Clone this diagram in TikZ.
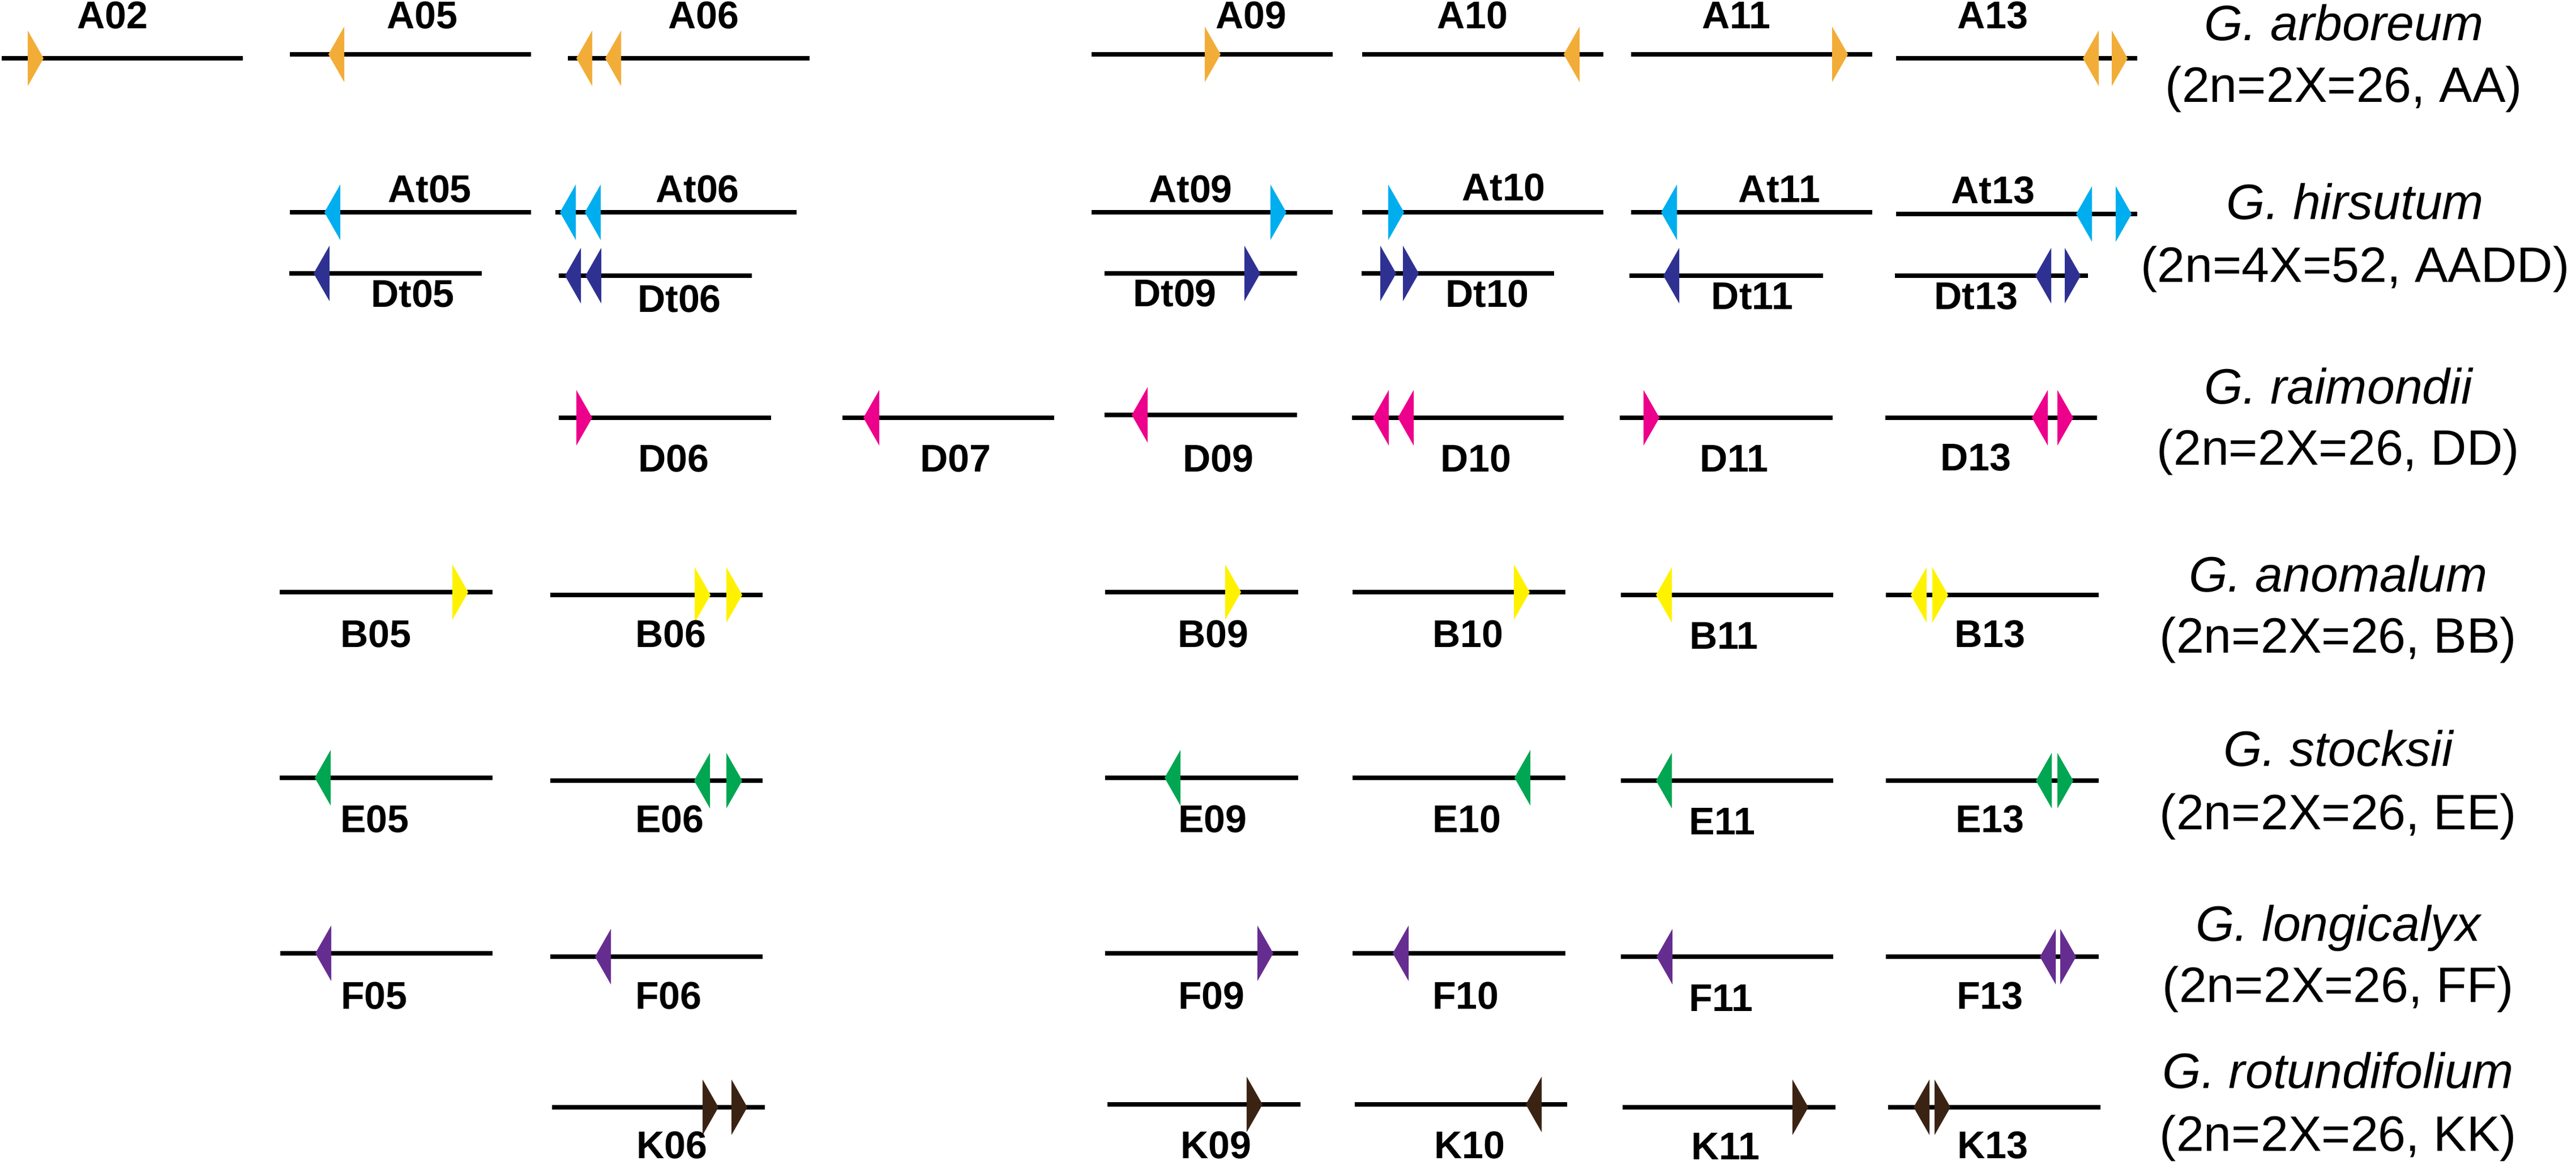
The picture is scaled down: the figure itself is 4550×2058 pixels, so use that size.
\documentclass[tikz,border=0pt]{standalone}
\usepackage{fontspec}
\setmainfont{Liberation Sans}
\usetikzlibrary{positioning,calc}
\definecolor{geneA}{HTML}{F2AD38}
\definecolor{geneAt}{HTML}{00AEEF}
\definecolor{geneDt}{HTML}{2E3192}
\definecolor{geneD}{HTML}{EC008C}
\definecolor{geneB}{HTML}{FFF200}
\definecolor{geneE}{HTML}{00A651}
\definecolor{geneF}{HTML}{662D91}
\definecolor{geneK}{HTML}{3B2314}

\begin{document}
\begin{tikzpicture}[
  x=0.01cm, y=-0.01cm,
  chrom/.style={line width=0.08cm},
  chrlab/.style={anchor=base, inner sep=0pt, font=\fontsize{19.4}{23}\selectfont\bfseries},
  species/.style={anchor=base, inner sep=0pt, font=\fontsize{25}{30}\selectfont\itshape},
  ploidy/.style={anchor=base, inner sep=0pt, font=\fontsize{25}{30}\selectfont},
  fwd/.pic={\fill (0,-49) -- (28,0) -- (0,49) -- cycle;},
  rev/.pic={\fill (0,-49) -- (-28,0) -- (0,49) -- cycle;},
  ]
  \useasboundingbox [fill=white] (0,0) rectangle (4550,2058);

  \draw [chrom] (3,103) -- (429,103);
  \pic [geneA] at (49,103) {fwd};
  \node [chrlab] (A02) at (199,51) {A02};
  \draw [chrom] (512,96) -- (938,96);
  \pic [geneA] at (608,96) {rev};
  \node [chrlab] (A05) at (746,51) {A05};
  \draw [chrom] (1003,103) -- (1430,103);
  \pic [geneA] at (1046,103) {rev};
  \pic [geneA] at (1097,103) {rev};
  \node [chrlab] (A06) at (1243,51) {A06};
  \draw [chrom] (1928,96) -- (2354,96);
  \pic [geneA] at (2128,96) {fwd};
  \node [chrlab] (A09) at (2210,51) {A09};
  \draw [chrom] (2406,96) -- (2832,96);
  \pic [geneA] at (2790,96) {rev};
  \node [chrlab] (A10) at (2601,51) {A10};
  \draw [chrom] (2881,96) -- (3307,96);
  \pic [geneA] at (3236,96) {fwd};
  \node [chrlab] (A11) at (3067,51) {A11};
  \draw [chrom] (3349,103) -- (3775,103);
  \pic [geneA] at (3707,103) {rev};
  \pic [geneA] at (3730,103) {fwd};
  \node [chrlab] (A13) at (3520,51) {A13};

  \draw [chrom] (512,375) -- (938,375);
  \pic [geneAt] at (601,375) {rev};
  \node [chrlab] (At05) at (759,358) {At05};
  \draw [chrom] (981,375) -- (1407,375);
  \pic [geneAt] at (1017,375) {rev};
  \pic [geneAt] at (1061,375) {rev};
  \node [chrlab] (At06) at (1232,358) {At06};
  \draw [chrom] (1928,375) -- (2354,375);
  \pic [geneAt] at (2244,375) {fwd};
  \node [chrlab] (At09) at (2103,358) {At09};
  \draw [chrom] (2406,375) -- (2832,375);
  \pic [geneAt] at (2452,375) {fwd};
  \node [chrlab] (At10) at (2656,355) {At10};
  \draw [chrom] (2881,375) -- (3307,375);
  \pic [geneAt] at (2962,375) {rev};
  \node [chrlab] (At11) at (3143,358) {At11};
  \draw [chrom] (3349,378) -- (3775,378);
  \pic [geneAt] at (3695,378) {rev};
  \pic [geneAt] at (3737,378) {fwd};
  \node [chrlab] (At13) at (3520,360) {At13};

  \draw [chrom] (511,483) -- (851,483);
  \pic [geneDt] at (582,483) {rev};
  \node [chrlab] (Dt05) at (729,543) {Dt05};
  \draw [chrom] (987,487) -- (1328,487);
  \pic [geneDt] at (1026,487) {rev};
  \pic [geneDt] at (1062,487) {rev};
  \node [chrlab] (Dt06) at (1200,551) {Dt06};
  \draw [chrom] (1951,483) -- (2291,483);
  \pic [geneDt] at (2198,483) {fwd};
  \node [chrlab] (Dt09) at (2075,542) {Dt09};
  \draw [chrom] (2405,483) -- (2745,483);
  \pic [geneDt] at (2438,483) {fwd};
  \pic [geneDt] at (2478,483) {fwd};
  \node [chrlab] (Dt10) at (2627,543) {Dt10};
  \draw [chrom] (2878,487) -- (3220,487);
  \pic [geneDt] at (2966,487) {rev};
  \node [chrlab] (Dt11) at (3095,547) {Dt11};
  \draw [chrom] (3347,487) -- (3688,487);
  \pic [geneDt] at (3623,487) {rev};
  \pic [geneDt] at (3647,487) {fwd};
  \node [chrlab] (Dt13) at (3490,547) {Dt13};

  \draw [chrom] (987,738) -- (1362,738);
  \pic [geneD] at (1018,738) {fwd};
  \node [chrlab] (D06) at (1190,833) {D06};
  \draw [chrom] (1488,738) -- (1862,738);
  \pic [geneD] at (1553,738) {rev};
  \node [chrlab] (D07) at (1688,833) {D07};
  \draw [chrom] (1951,733) -- (2291,733);
  \pic [geneD] at (2027,733) {rev};
  \node [chrlab] (D09) at (2152,833) {D09};
  \draw [chrom] (2388,738) -- (2762,738);
  \pic [geneD] at (2453,738) {rev};
  \pic [geneD] at (2497,738) {rev};
  \node [chrlab] (D10) at (2607,833) {D10};
  \draw [chrom] (2861,738) -- (3237,738);
  \pic [geneD] at (2903,738) {fwd};
  \node [chrlab] (D11) at (3063,833) {D11};
  \draw [chrom] (3330,738) -- (3704,738);
  \pic [geneD] at (3617,738) {rev};
  \pic [geneD] at (3634,738) {fwd};
  \node [chrlab] (D13) at (3490,831) {D13};

  \draw [chrom] (494,1046) -- (870,1046);
  \pic [geneB] at (799,1046) {fwd};
  \node [chrlab] (B05) at (664,1143) {B05};
  \draw [chrom] (972,1051) -- (1347,1051);
  \pic [geneB] at (1227,1051) {fwd};
  \pic [geneB] at (1283,1051) {fwd};
  \node [chrlab] (B06) at (1185,1143) {B06};
  \draw [chrom] (1952,1046) -- (2293,1046);
  \pic [geneB] at (2164,1046) {fwd};
  \node [chrlab] (B09) at (2143,1143) {B09};
  \draw [chrom] (2389,1046) -- (2765,1046);
  \pic [geneB] at (2674,1046) {fwd};
  \node [chrlab] (B10) at (2593,1143) {B10};
  \draw [chrom] (2863,1051) -- (3238,1051);
  \pic [geneB] at (2953,1051) {rev};
  \node [chrlab] (B11) at (3045,1146) {B11};
  \draw [chrom] (3331,1051) -- (3707,1051);
  \pic [geneB] at (3403,1051) {rev};
  \pic [geneB] at (3413,1051) {fwd};
  \node [chrlab] (B13) at (3515,1143) {B13};

  \draw [chrom] (494,1374) -- (870,1374);
  \pic [geneE] at (584,1374) {rev};
  \node [chrlab] (E05) at (662,1470) {E05};
  \draw [chrom] (972,1379) -- (1347,1379);
  \pic [geneE] at (1254,1379) {rev};
  \pic [geneE] at (1283,1379) {fwd};
  \node [chrlab] (E06) at (1183,1470) {E06};
  \draw [chrom] (1952,1374) -- (2293,1374);
  \pic [geneE] at (2085,1374) {rev};
  \node [chrlab] (E09) at (2142,1470) {E09};
  \draw [chrom] (2389,1374) -- (2765,1374);
  \pic [geneE] at (2703,1374) {rev};
  \node [chrlab] (E10) at (2591,1470) {E10};
  \draw [chrom] (2863,1379) -- (3238,1379);
  \pic [geneE] at (2953,1379) {rev};
  \node [chrlab] (E11) at (3042,1474) {E11};
  \draw [chrom] (3331,1379) -- (3707,1379);
  \pic [geneE] at (3624,1379) {rev};
  \pic [geneE] at (3634,1379) {fwd};
  \node [chrlab] (E13) at (3515,1470) {E13};

  \draw [chrom] (495,1684) -- (870,1684);
  \pic [geneF] at (585,1684) {rev};
  \node [chrlab] (F05) at (661,1782) {F05};
  \draw [chrom] (972,1690) -- (1347,1690);
  \pic [geneF] at (1079,1690) {rev};
  \node [chrlab] (F06) at (1181,1782) {F06};
  \draw [chrom] (1952,1684) -- (2293,1684);
  \pic [geneF] at (2221,1684) {fwd};
  \node [chrlab] (F09) at (2140,1782) {F09};
  \draw [chrom] (2389,1684) -- (2765,1684);
  \pic [geneF] at (2488,1684) {rev};
  \node [chrlab] (F10) at (2589,1782) {F10};
  \draw [chrom] (2863,1690) -- (3238,1690);
  \pic [geneF] at (2954,1690) {rev};
  \node [chrlab] (F11) at (3040,1786) {F11};
  \draw [chrom] (3331,1690) -- (3707,1690);
  \pic [geneF] at (3631,1690) {rev};
  \pic [geneF] at (3639,1690) {fwd};
  \node [chrlab] (F13) at (3515,1782) {F13};

  \draw [chrom] (975,1956) -- (1351,1956);
  \pic [geneK] at (1241,1956) {fwd};
  \pic [geneK] at (1292,1956) {fwd};
  \node [chrlab] (K06) at (1187,2046) {K06};
  \draw [chrom] (1956,1951) -- (2297,1951);
  \pic [geneK] at (2202,1951) {fwd};
  \node [chrlab] (K09) at (2148,2046) {K09};
  \draw [chrom] (2393,1951) -- (2768,1951);
  \pic [geneK] at (2723,1951) {rev};
  \node [chrlab] (K10) at (2596,2046) {K10};
  \draw [chrom] (2866,1956) -- (3242,1956);
  \pic [geneK] at (3166,1956) {fwd};
  \node [chrlab] (K11) at (3048,2048) {K11};
  \draw [chrom] (3335,1956) -- (3710,1956);
  \pic [geneK] at (3408,1956) {rev};
  \pic [geneK] at (3417,1956) {fwd};
  \node [chrlab] (K13) at (3520,2046) {K13};

  \node [species] (arb-name) at (4140,72) {G. arboreum};
  \node [ploidy] (arb-ploidy) at ($(arb-name.base)+(0,109)$) {(2n=2X=26, AA)};
  \node [species] (hir-name) at (4160,388) {G. hirsutum};
  \node [ploidy] (hir-ploidy) at ($(hir-name.base)+(0,111)$) {(2n=4X=52, AADD)};
  \node [species] (rai-name) at (4130,713) {G. raimondii};
  \node [ploidy] (rai-ploidy) at ($(rai-name.base)+(0,108)$) {(2n=2X=26, DD)};
  \node [species] (ano-name) at (4130,1045) {G. anomalum};
  \node [ploidy] (ano-ploidy) at ($(ano-name.base)+(0,108)$) {(2n=2X=26, BB)};
  \node [species] (sto-name) at (4130,1353) {G. stocksii};
  \node [ploidy] (sto-ploidy) at ($(sto-name.base)+(0,112)$) {(2n=2X=26, EE)};
  \node [species] (lon-name) at (4130,1662) {G. longicalyx};
  \node [ploidy] (lon-ploidy) at ($(lon-name.base)+(0,108)$) {(2n=2X=26, FF)};
  \node [species] (rot-name) at (4130,1922) {G. rotundifolium};
  \node [ploidy] (rot-ploidy) at ($(rot-name.base)+(0,111)$) {(2n=2X=26, KK)};
\end{tikzpicture}
\end{document}
